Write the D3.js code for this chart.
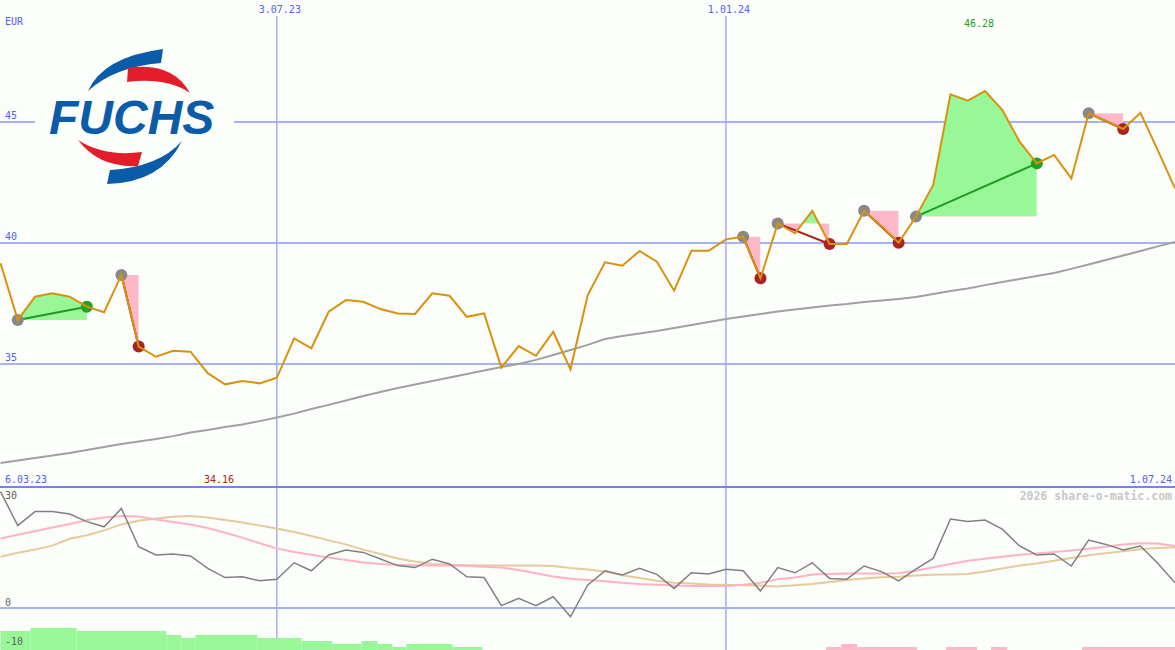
<!DOCTYPE html>
<html>
<head>
<meta charset="utf-8">
<script src="https://cdn.jsdelivr.net/npm/d3@7"></script>
<style>
body { margin: 0; background: #fcfefc; }
svg { display: block; }
text { font-family: "DejaVu Sans Mono", monospace; font-size: 10px; }
</style>
</head>
<body>
<script>
// DATA (weekly closes, EUR)
var price = [39.16, 36.82, 37.78, 37.92, 37.78, 37.37, 37.14, 38.68, 35.72, 35.30,
    35.55, 35.51, 34.62, 34.16, 34.30, 34.20, 34.43, 36.06, 35.65, 37.16,
    37.64, 37.57, 37.27, 37.09, 37.07, 37.92, 37.82, 36.95, 37.09, 34.85,
    35.74, 35.34, 36.33, 34.78, 37.85, 39.20, 39.06, 39.67, 39.23, 38.03,
    39.68, 39.68, 40.15, 40.26, 38.54, 40.81, 40.40, 41.33, 39.96, 39.96,
    41.33, 40.70, 40.01, 41.09, 42.40, 46.14, 45.88, 46.28, 45.50, 44.19,
    43.29, 43.64, 42.67, 45.36, 45.04, 44.71, 45.38, 43.84, 42.26];

// long moving average
var avgLong = [30.91, 31.01, 31.12, 31.22, 31.32, 31.45, 31.57, 31.69, 31.80, 31.90,
    32.02, 32.17, 32.27, 32.40, 32.50, 32.64, 32.79, 32.95, 33.14, 33.31,
    33.49, 33.68, 33.84, 34.01, 34.15, 34.30, 34.44, 34.59, 34.73, 34.88,
    35.00, 35.17, 35.37, 35.58, 35.79, 36.03, 36.16, 36.26, 36.36, 36.49,
    36.61, 36.74, 36.86, 36.96, 37.07, 37.17, 37.25, 37.33, 37.42, 37.48,
    37.56, 37.62, 37.69, 37.77, 37.89, 38.02, 38.12, 38.26, 38.39, 38.51,
    38.64, 38.76, 38.93, 39.11, 39.30, 39.48, 39.67, 39.86, 40.04];

// lower panel indicators
var oscGray = [29.1, 20.6, 24.1, 24.1, 23.5, 21.6, 20.3, 24.9, 15.3, 13.25,
    13.5, 13.0, 9.9, 7.6, 7.8, 6.8, 7.2, 11.3, 9.3, 13.25,
    14.5, 13.9, 12.25, 10.6, 10.1, 12.2, 11.0, 7.8, 7.6, 0.6,
    2.4, 0.6, 2.8, -2.2, 5.75, 9.3, 8.25, 9.9, 8.4, 4.9,
    8.8, 8.5, 9.7, 9.3, 4.25, 10.1, 8.8, 11.3, 7.4, 7.2,
    10.5, 9.1, 6.8, 9.7, 12.4, 22.25, 21.6, 22.0, 19.7, 15.5,
    13.25, 13.5, 10.5, 17.0, 15.9, 14.5, 15.5, 11.2, 6.3];

var oscPink = [17.4, 18.3, 19.2, 20.1, 21.0, 22.0, 22.6, 23.0, 22.9, 22.1,
    21.5, 20.9, 20.0, 18.8, 17.6, 16.2, 14.9, 14.0, 13.3, 12.6,
    12.0, 11.4, 11.0, 10.8, 10.7, 10.6, 10.6, 10.5, 10.3, 10.1,
    9.5, 8.7, 7.9, 7.3, 7.0, 6.7, 6.3, 6.0, 5.8, 5.6,
    5.5, 5.5, 5.5, 5.8, 6.3, 7.2, 7.6, 8.4, 8.5, 8.6,
    8.6, 8.6, 8.7, 9.3, 10.2, 11.0, 11.8, 12.3, 12.8, 13.3,
    13.6, 14.0, 14.4, 14.8, 15.3, 15.9, 16.2, 16.1, 15.5];

var oscTan = [12.8, 13.8, 14.6, 15.6, 17.3, 18.2, 19.4, 20.9, 21.8, 22.4,
    22.8, 23.0, 22.6, 22.0, 21.4, 20.6, 19.9, 19.0, 18.0, 16.9,
    15.9, 14.6, 13.5, 12.4, 11.6, 11.0, 10.8, 10.7, 10.6, 10.6,
    10.6, 10.6, 10.5, 10.0, 9.6, 9.1, 8.2, 7.5, 6.8, 6.3,
    6.1, 5.9, 5.8, 5.7, 5.6, 5.4, 5.7, 6.0, 6.5, 7.0,
    7.4, 7.7, 7.8, 8.1, 8.3, 8.4, 8.5, 9.1, 9.9, 10.6,
    11.1, 11.8, 12.5, 13.2, 13.7, 14.2, 14.7, 15.0, 15.2];

// signals: start week -> end week
var signalFrom = [1, 7, 43, 45, 50, 53, 63];
var signalTo = [5, 8, 44, 48, 52, 60, 65];

// histogram bars [from week, to week, value]
var greenBars = [[0, 1.74, -5.75], [1.74, 4.4, -5], [4.4, 9.6, -5.75], [9.6, 10.47, -6.75],
    [10.47, 11.28, -7.5], [11.28, 14.87, -6.75], [14.87, 17.42, -7.5], [17.42, 19.21, -8.25],
    [19.21, 20.89, -9], [20.89, 21.82, -8.25], [21.82, 22.69, -9], [22.69, 23.5, -9.75],
    [23.5, 26.16, -9], [26.16, 27.9, -9.75]];
var pinkBars = [[47.8, 48.67, -9.75], [48.67, 49.6, -9], [49.6, 53.07, -9.75],
    [54.75, 56.54, -9.75], [57.35, 58.28, -9.75], [62.62, 68, -9.75]];

var dateTicks = [16, 42];
var dateLabels = ["3.07.23", "1.01.24"];
var priceTicks = [45, 40, 35];
var oscTicks = [30, 0, -10];
var firstDate = "6.03.23", lastDate = "1.07.24";

var width = 1175, height = 650;
var bg = "#fcfefc", blue = "#5262ee", gridCol = "#a6b2f2";

// LAYOUT ELEMENTS
var svg = d3.select("body").append("svg")
    .attr("width", width)
    .attr("height", height)
    .style("background", bg);

var x = d3.scaleLinear().domain([0, price.length - 1]).range([0.5, 1175]);
var y = d3.scaleLinear().domain([35, 45]).range([364, 122]);
var y2 = d3.scaleLinear().domain([-10.5, 30]).range([650, 488]);

// horizontal grid, upper panel
svg.selectAll(".hgrid")
    .data(priceTicks)
    .enter().append("line")
    .attr("x1", 0).attr("x2", width)
    .attr("y1", d => y(d)).attr("y2", d => y(d))
    .style("stroke", gridCol).style("stroke-width", 2);

svg.selectAll(".plabel")
    .data(priceTicks)
    .enter().append("text")
    .attr("x", 5).attr("y", d => y(d) - 3)
    .style("fill", blue)
    .text(d => d);

svg.append("text").attr("x", 5).attr("y", 25).style("fill", blue).text("EUR");

// vertical date lines
svg.selectAll(".vgrid")
    .data(dateTicks)
    .enter().append("line")
    .attr("x1", d => x(d)).attr("x2", d => x(d))
    .attr("y1", 16).attr("y2", height)
    .style("stroke", "#a4acf6").style("stroke-width", 1.5);

svg.selectAll(".dlabel")
    .data(dateTicks)
    .enter().append("text")
    .attr("x", d => x(d) + 3).attr("y", 13)
    .style("text-anchor", "middle")
    .style("fill", blue)
    .text((d, i) => dateLabels[i]);

// lower panel frame
svg.append("line")
    .attr("x1", 0).attr("x2", width)
    .attr("y1", y2(0)).attr("y2", y2(0))
    .style("stroke", gridCol).style("stroke-width", 2);
svg.append("line")
    .attr("x1", 0).attr("x2", width)
    .attr("y1", 487).attr("y2", 487)
    .style("stroke", "#7484ec").style("stroke-width", 2);

svg.append("text").attr("x", 5).attr("y", 483).style("fill", blue).text(firstDate);
svg.append("text").attr("x", 1172).attr("y", 483).style("text-anchor", "end").style("fill", blue).text(lastDate);

// logo
var logo = svg.append("g");
logo.append("rect").attr("x", 35).attr("y", 40).attr("width", 199).attr("height", 155).style("fill", bg);
logo.append("path").attr("d", "M88,91 Q103,57 163,49 L161,63 Q114,67 88,91 Z").style("fill", "#0b5ca8");
logo.append("path").attr("d", "M128,68 Q172,61 190,93 Q166,77 127,82 Z").style("fill", "#e31e2a");
logo.append("path").attr("d", "M78,140 Q99,168 138,166 L142,152 Q104,157 78,140 Z").style("fill", "#e31e2a");
logo.append("path").attr("d", "M182,141 Q161,183 107,184 L110,170 Q159,167 182,141 Z").style("fill", "#0b5ca8");
logo.append("text")
    .attr("x", 49).attr("y", 134)
    .style("font-family", "'Liberation Sans', Arial, sans-serif")
    .style("font-size", "48px")
    .style("font-weight", "bold")
    .style("font-style", "italic")
    .style("fill", "#0b5ca8")
    .text("FUCHS");

// long average
svg.append("path")
    .datum(avgLong)
    .attr("d", d3.line().x((d, i) => x(i)).y(d => y(d)))
    .style("fill", "none").style("stroke", "#a0a0a0").style("stroke-width", 2);

// signal areas
var defs = svg.append("defs");
signalFrom.forEach(function (s, i) {
    var e = signalTo[i];
    var base = price[s];
    var idx = d3.range(s, e + 1);
    defs.append("clipPath").attr("id", "up" + i)
        .append("rect").attr("x", x(s)).attr("y", 0)
        .attr("width", x(e) - x(s)).attr("height", y(base));
    defs.append("clipPath").attr("id", "dn" + i)
        .append("rect").attr("x", x(s)).attr("y", y(base))
        .attr("width", x(e) - x(s)).attr("height", 487 - y(base));
    var area = d3.area().x(k => x(k)).y0(y(base)).y1(k => y(price[k]));
    svg.append("path").datum(idx).attr("d", area)
        .attr("clip-path", "url(#up" + i + ")").style("fill", "#98f898");
    svg.append("path").datum(idx).attr("d", area)
        .attr("clip-path", "url(#dn" + i + ")").style("fill", "#ffb8c8");
});

signalFrom.forEach(function (s, i) {
    var e = signalTo[i];
    var up = price[e] > price[s];
    svg.append("line")
        .attr("x1", x(s)).attr("y1", y(price[s]))
        .attr("x2", x(e)).attr("y2", y(price[e]))
        .style("stroke", up ? "#229a22" : "#a82020").style("stroke-width", 2);
    svg.append("circle").attr("cx", x(s)).attr("cy", y(price[s])).attr("r", 6).style("fill", "#888888");
    svg.append("circle").attr("cx", x(e)).attr("cy", y(price[e])).attr("r", 6)
        .style("fill", up ? "#22a022" : "#aa2222");
});

// price line
svg.append("path")
    .datum(price)
    .attr("d", d3.line().x((d, i) => x(i)).y(d => y(d)))
    .style("fill", "none").style("stroke", "#d8920c").style("stroke-width", 2);

// high / low labels
var iMax = d3.maxIndex(price), iMin = d3.minIndex(price);
svg.append("text").attr("x", x(iMax) - 6).attr("y", 27)
    .style("text-anchor", "middle").style("fill", "#22a022")
    .text(d3.format(".2f")(price[iMax]));
svg.append("text").attr("x", x(iMin) - 6).attr("y", 483)
    .style("text-anchor", "middle").style("fill", "#aa2222")
    .text(d3.format(".2f")(price[iMin]));

// LOWER PANEL
svg.selectAll(".olabel")
    .data(oscTicks)
    .enter().append("text")
    .attr("x", 5).attr("y", d => d == 30 ? 499 : y2(d) - 2)
    .style("fill", "#606060")
    .text(d => d);

svg.append("text")
    .attr("x", 1172).attr("y", 500)
    .style("text-anchor", "end")
    .style("font-size", "11.5px")
    .style("font-weight", "bold")
    .style("fill", "#c8c8c8")
    .text("2026 share-o-matic.com");

var oscLine = d3.line().x((d, i) => x(i)).y(d => y2(d));
svg.append("path").datum(oscTan).attr("d", oscLine)
    .style("fill", "none").style("stroke", "#e6ca98").style("stroke-width", 2);
svg.append("path").datum(oscPink).attr("d", oscLine)
    .style("fill", "none").style("stroke", "#ffb2c6").style("stroke-width", 2);
svg.append("path").datum(oscGray).attr("d", oscLine)
    .style("fill", "none").style("stroke", "#808080").style("stroke-width", 1.5);

svg.selectAll(".gbar")
    .data(greenBars)
    .enter().append("rect")
    .attr("x", d => x(d[0])).attr("width", d => x(d[1]) - x(d[0]))
    .attr("y", d => y2(d[2])).attr("height", d => height - y2(d[2]))
    .style("fill", "#98f898");

svg.selectAll(".pbar")
    .data(pinkBars)
    .enter().append("rect")
    .attr("x", d => x(d[0])).attr("width", d => x(d[1]) - x(d[0]))
    .attr("y", d => y2(d[2])).attr("height", d => height - y2(d[2]))
    .style("fill", "#ffb8c8");

svg.append("text").attr("x", 5).attr("y", 645).style("fill", "#606060").text("-10");
</script>
</body>
</html>
